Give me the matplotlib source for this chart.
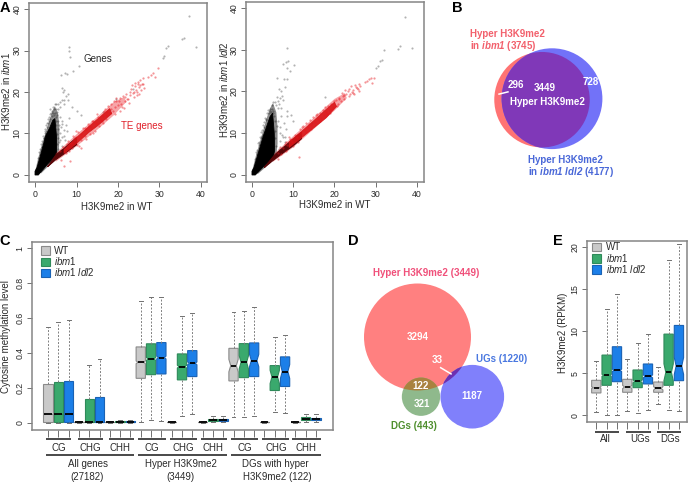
import matplotlib
matplotlib.use('Agg')
import matplotlib.pyplot as plt
from matplotlib.patches import Circle, Patch
from matplotlib.path import Path

plt.rcParams['font.family'] = ['Liberation Sans', 'DejaVu Sans']
plt.rcParams['mathtext.fontset'] = 'custom'
plt.rcParams['mathtext.rm'] = 'Liberation Sans'
plt.rcParams['mathtext.it'] = 'Liberation Sans:italic'
plt.rcParams['mathtext.bf'] = 'Liberation Sans:bold'
plt.rcParams['mathtext.bfit'] = 'Liberation Sans:italic:bold'

W, H = 690, 484
TXT = '#2a2a2a'
AXC = '#858585'

# ---------- panel A data ----------
a1_black_core_x = [0, 0, .5, 1.4, 2.6, 3.6, 4.3, 4.8, 5.2, 5.2, 4, 3, 2, 1.2, .8]
a1_black_core_y = [0, .9, 1.8, 5, 9.5, 11.5, 13.2, 13.6, 9, 5, 3.6, 2.6, 1.4, .5, 0]
a1_black_fuzz_x = [0, .8, 1.8, 2.8, 3.5, 4.2, 4.8, 5.6, 5.9, 5.8, 5.6, 4.5, 3, 1.5]
a1_black_fuzz_y = [.8, 4.2, 7.8, 11, 13.2, 15.4, 16.6, 14.6, 11, 7, 4.8, 3.2, 1.9, .4]
a1_black_x = [8.3, 8.3, 8.5, 6.3, 7.2, 7.8, 10.5, 9.2, 6.5, 7, 6.7, 8, 7.5, 8, 7, 6.5, 6, 5.5, 5, 4.7, 5, 5.5, 6, 7, 9, 10, 11, 6, 5.5, 5, 6.5, 7.5, 5.5, 6, 7, 6, 5.5, 6.5, 5, 4.5, 4.2, 3.8, 3.3, 3, 2.5, 2, 1.5, 1, .8, 2.2, 2.8, 4.8, 5.2, 4.4, 3.6, 4, 4.3, 4.6, 3.4, 3.1, 2.6, 2.3, 1.8, 1.3, 5.1, 5.4, 5.7, 4.9, 5.3, 5.8, 6.2, 5.2, 5.6, 37, 36, 35.5, 38.8, 32, 31.5, 31, 30.8, 16.5, 19.5, 23.5, 6.6, 6.9, 6.4, 7.3, 6.2, 6.8, 7.6, 8.2, 1.1, 1.6, 2.1, 2.4, 3.2, 3.5, 3.7]
a1_black_y = [30.8, 29.8, 28.5, 24, 24.5, 24.3, 26.2, 25, 21, 20.5, 20, 19.5, 19, 18, 18, 18, 17.5, 17, 17, 17, 16, 16, 16.5, 17, 16.5, 15.5, 14.5, 14, 13, 14, 13, 12, 11, 10, 9.5, 8.5, 9, 7, 12, 14.5, 15.5, 15, 13, 12.5, 11, 9.5, 7.5, 5.5, 4, 9, 11.5, 15, 15.3, 16.5, 14.6, 14.2, 15, 16, 14, 13.5, 12, 10.5, 8.2, 6.2, 13, 14.5, 12, 11, 9.8, 8, 11.5, 7.5, 6.2, 38.2, 33, 32.7, 30.8, 31, 30.5, 28.7, 28.3, 15.2, 18.2, 20.8, 12.2, 10.8, 9.2, 8.4, 6, 5.6, 10.6, 13.8, 4.8, 6.8, 8.8, 10, 12.6, 13.6, 15.8]
a1_dark_x = [3.5, 5, 7, 10, 10, 7, 5, 3]
a1_dark_y = [2.6, 4.8, 6.4, 9, 7.3, 5.1, 3.7, 2]
a1_red_core_x = [7, 10, 13, 15, 18, 18.5, 15, 13, 10, 7]
a1_red_core_y = [6.1, 9, 11.7, 13.4, 16, 14.8, 11.8, 10.3, 7.6, 5.2]
a1_red_fuzz_x = [5, 10, 15, 19, 21.5, 22, 19, 15, 10, 5]
a1_red_fuzz_y = [5.2, 9.8, 14, 17.6, 18.8, 17.6, 14.4, 10.9, 6.9, 3.2]
a1_red_x = [29.6, 28.5, 28, 27.3, 29, 26, 25.8, 25.4, 25.1, 24.8, 24.4, 24, 23.6, 23.2, 26.3, 25, 24.2, 23.9, 25.5, 24.6, 22.8, 22.4, 22, 21.6, 21.2, 20.8, 20.4, 20, 19.6, 19.2, 22.6, 21.8, 21, 20.2, 19.4, 18.8, 18.4, 18, 17.6, 17.2, 16.8, 16.4, 19, 18.2, 17.4, 16.6, 20.6, 21.4, 15.8, 15.2, 14.6, 14, 13.4, 12.8, 12.2, 11.6, 11, 10.4, 9.8, 9.2, 8.6, 8, 15.4, 14.4, 13.2, 12, 11, 10, 9, 8.2, 16.2, 17, 7.4, 6.8, 6.2, 6, 7.8, 8.4, 9.4, 10.6, 13, 12.4, 9.8, 14, 8.2, 7, 12, 15, 16.4, 11.2, 19.2, 13.8, 23, 23.8, 24.6, 25.2, 26, 22.2, 24.9, 23.4]
a1_red_y = [25.8, 24.5, 24.2, 23.7, 23.5, 23.3, 22, 22.8, 21.2, 22.4, 20.6, 21.4, 19.8, 20.8, 21, 19.5, 22.1, 18.9, 20.5, 19.3, 20.1, 18.4, 19.4, 17.8, 19, 17.2, 18.6, 16.8, 17.9, 16.4, 17.4, 18.9, 16.4, 17.9, 18.5, 15.4, 17.2, 15, 16.6, 14.5, 16, 14.1, 17.9, 15.8, 15.2, 15.4, 15.5, 16.2, 13.2, 13.9, 12.6, 13, 11.6, 12.4, 10.9, 11.3, 9.9, 10.3, 9.1, 9.3, 7.7, 8.3, 11.7, 10.7, 9.9, 9.5, 8.5, 7.2, 6.4, 5.9, 12.9, 13.6, 5.4, 6.7, 3.5, 5.9, 7.4, 3.4, 8.9, 7, 11.9, 8.7, 10.7, 10.2, 7.7, 2.2, 11.4, 14.6, 12.6, 6.6, 14.7, 12.9, 19.2, 20.1, 20, 21.6, 22, 18.2, 21.9, 21.6]

a2_black_core_x = [0, 0, .5, 1.4, 2.8, 3.7, 4.4, 5, 5.4, 5.5, 5.2, 4.2, 3, 2, 1.2, .8]
a2_black_core_y = [0, .9, 1.8, 4.8, 9.5, 12, 14, 14.8, 10, 6, 4.3, 3.2, 2.2, 1.2, .4, 0]
a2_black_fuzz_x = [0, .9, 2, 3, 3.7, 4.4, 5.1, 5.9, 6.2, 6.2, 5.9, 4.5, 3, 1.5]
a2_black_fuzz_y = [.8, 4.4, 8.2, 11.6, 14, 16, 17.2, 15, 11.4, 7.5, 4.6, 2.9, 1.6, .3]
a2_black_x = [8.5, 8.2, 7.4, 8.8, 8.5, 10.2, 9.1, 8.6, 6.1, 7.8, 8, 6.5, 7, 7.2, 6.8, 6, 6.4, 7.5, 5.5, 5, 5.8, 4.8, 6.2, 7.1, 9.5, 9.9, 8.5, 7, 6.4, 5.6, 7.7, 8.2, 6, 5.6, 6.8, 7.4, 8, 5.5, 5.9, 6.5, 5.2, 4.8, 4.4, 3.9, 3.4, 3, 2.5, 2, 1.5, 1, .8, 2.2, 2.8, 5, 5.3, 4.6, 3.6, 4.1, 4.3, 3.2, 2.7, 2.3, 1.7, 1.3, 6.6, 37, 36, 35.3, 38.8, 32, 31.5, 31, 30.5, 30, 17.8, 14.5, 6.7, 7.2, 6.9, 7.9, 8.6, 6.3, 1.2, 1.8, 2.4, 3.3]
a2_black_y = [30.5, 27, 26.5, 27.3, 25.5, 26.3, 25, 23, 23.2, 23, 21, 20.6, 20, 19, 18.5, 18.6, 17.6, 18, 17.5, 17.4, 16.8, 16.8, 16, 16, 14.4, 13, 14, 14, 13, 13, 12.4, 11, 11.8, 10.6, 10, 9, 8, 8.8, 7, 6.2, 15.4, 15.8, 15.9, 15.5, 13.5, 12.6, 10.8, 9.2, 7.6, 5.4, 3.8, 8.8, 11.4, 14.8, 14.2, 15, 14.8, 14.9, 15.2, 13.7, 11.9, 10.4, 8, 6, 17, 37.7, 30.8, 30.2, 30.4, 29.8, 27.4, 27.2, 26, 25.5, 18.6, 12.5, 11.4, 9.6, 8.2, 9, 15.2, 5.6, 5, 7.2, 9.4, 13.2]
a2_dark_x = [3.5, 5.4, 7, 10, 12, 12, 10, 7, 5, 3]
a2_dark_y = [2.4, 4.7, 6.1, 8.6, 10.2, 8.7, 7, 4.9, 3.4, 1.8]
a2_red_core_x = [9, 12, 15, 18, 20, 20.5, 18, 15, 12, 9]
a2_red_core_y = [7.9, 10.4, 13, 15.7, 17.4, 16.4, 13.7, 11.3, 8.9, 6.6]
a2_red_fuzz_x = [5.5, 10, 15, 20, 22.5, 23, 20, 15, 10, 5]
a2_red_fuzz_y = [5.2, 9.3, 13.7, 18.2, 19.6, 18.4, 15.4, 11, 6.6, 3.1]
a2_red_x = [29.7, 28.9, 28.4, 27.8, 27.3, 29.1, 26, 25.6, 25.2, 24.8, 24.4, 24, 23.6, 23.2, 25.9, 24.6, 23.8, 22.8, 22.4, 22, 21.6, 21.2, 20.8, 20.4, 22.6, 21.8, 21, 20.6, 20, 19.6, 19.2, 18.8, 18.4, 18, 17.6, 19.4, 18.2, 17.2, 16.8, 16.4, 16, 15.6, 15.2, 14.8, 14.4, 14, 13.6, 13.2, 12.8, 12.4, 12, 11.6, 11, 10.4, 9.8, 9.2, 8.6, 8, 7.4, 6.8, 6.2, 15.8, 14.2, 13, 11.2, 10, 8.2, 17.4, 19, 7, 16.6, 9.5, 12.2, 11.3, 8.2, 13.8, 26.2, 6.3, 9, 23.4, 24.2, 25, 25.4, 22.2]
a2_red_y = [23.3, 23.1, 22.9, 22.6, 22.3, 22, 21.7, 20.5, 21, 19.5, 20.3, 21.4, 19, 20, 20, 19.7, 19.3, 19.3, 18.1, 18.9, 17.7, 18.5, 17.1, 18, 20.3, 19.6, 18.2, 16.6, 17.6, 16.2, 17, 15.5, 16.6, 15, 16.2, 15.7, 14.7, 15.6, 13.7, 14.9, 13.3, 14.3, 12.7, 13.9, 12, 13.1, 11.4, 12.4, 10.7, 11.7, 10, 10.9, 9, 9.5, 8, 8.6, 7.2, 7.5, 6.4, 6.6, 3.8, 14.5, 11, 10.3, 8, 6.9, 5.8, 14.3, 14.9, 5.1, 12.8, 8.4, 11.6, 4.2, 7.9, 12.2, 21.2, 5.2, 9.2, 20.6, 19.8, 21.6, 20.8, 19.2]

# ---------- panel C data ----------
c_positions = list(range(1, 28))
c_hi  = [.55, .575, .59, .01, .33, .365, .008, .015, .016,
         .695, .72, .72, .01, .61, .627, .009, .04, .04,
         .637, .64, .663, .01, .491, .5, .008, .05, .05]
c_q3  = [.22, .23, .237, .006, .135, .148, .005, .008, .01,
         .434, .452, .459, .006, .394, .413, .006, .023, .023,
         .426, .453, .457, .006, .327, .377, .005, .03, .029]
c_med = [.048, .05, .052, .003, .005, .006, .003, .004, .005,
         .346, .365, .373, .003, .321, .34, .004, .017, .017,
         .327, .346, .356, .003, .262, .293, .003, .022, .02]
c_q1  = [.002, .002, .002, .001, .001, .001, .001, .002, .002,
         .254, .275, .279, .001, .245, .264, .002, .01, .01,
         .239, .258, .264, .001, .184, .207, .001, .013, .012]
c_lo  = [0, 0, 0, 0, 0, 0, 0, 0, 0,
         .002, .013, .01, 0, .036, .048, 0, .002, .002,
         .031, .034, .038, 0, .063, .057, 0, .001, .003]
c_notch = [0, 0, 0, 0, 0, 0, 0, 0, 0,
           .008, .008, .008, 0, .008, .008, 0, 0, 0,
           .036, .038, .036, 0, .038, .04, 0, 0, 0]

# ---------- panel E data ----------
e_positions = list(range(1, 10))
e_hi  = [6.4, 12.6, 14.35, 6.64, 8.54, 9.64, 5.77, 18.5, 20.36]
e_q3  = [4.15, 7.15, 8.14, 4.27, 5.38, 6.09, 3.95, 9.64, 10.67]
e_med = [3.28, 4.74, 5.34, 3.36, 4.03, 4.62, 3.2, 5.1, 5.85]
e_q1  = [2.65, 3.56, 3.99, 2.73, 3.28, 3.72, 2.73, 3.56, 4.11]
e_lo  = [.43, .04, .04, .51, .28, .67, 1.3, .63, .51]
e_notch = [.1, .12, .14, .2, .18, .18, .2, 1.0, 1.0]

series_names = ['WT', r'$\mathit{ibm1}$', r'$\mathit{ibm1\ ldl2}$']
box_fill = ['#c9c9c9', '#3aa96d', '#1c7fe8']
box_edge = ['#8a8a8a', '#2f8a5a', '#1a62b4']

# ---------- Venn counts ----------
b_only_ibm1, b_shared, b_only_ldl2 = 296, 3449, 728
b_total_ibm1, b_total_ldl2 = 3745, 4177
d_hyper, d_ug, d_dg = 3449, 1220, 443
d_hyper_only, d_hyper_ug, d_hyper_dg, d_dg_only, d_ug_only = 3294, 33, 122, 321, 1187


def px_axes(fig, l, t, r, b, **kw):
    return fig.add_axes([l / W, 1 - b / H, (r - l) / W, (b - t) / H], **kw)


def style(ax):
    for s in ax.spines.values():
        s.set_color(AXC)
        s.set_linewidth(1.1)
    ax.tick_params(axis='both', colors='#707070', labelcolor=TXT, labelsize=6.3,
                   length=3.5, width=.7, pad=2)
    for lab in ax.get_yticklabels():
        lab.set_rotation(90)
        lab.set_va('center')


def scatter_panel(ax, core_x, core_y, fuzz_x, fuzz_y, dark_x, dark_y, red_core_x, red_core_y,
                  red_fuzz_x, red_fuzz_y, bx, by, rx, ry):
    ax.fill(fuzz_x, fuzz_y, color='#000000', lw=0, alpha=.45, zorder=2)
    ax.fill(core_x, core_y, color='#000000', lw=.6, zorder=2)
    ax.scatter(bx, by, s=2.4, c='#000000', alpha=.3, linewidths=0, zorder=2)
    ax.fill(red_fuzz_x, red_fuzz_y, color='#ee2a30', lw=0, alpha=.42, zorder=3)
    ax.fill(dark_x, dark_y, color='#5a0608', lw=.8, zorder=3)
    ax.fill(red_core_x, red_core_y, color='#d81518', lw=.6, alpha=.9, zorder=3)
    ax.scatter(rx, ry, s=2.6, c='#e8141c', alpha=.45, linewidths=0, zorder=4)


fig = plt.figure(figsize=(W / 100, H / 100), dpi=100)

# Panel A left
ax = px_axes(fig, 29, 3, 207, 182)
ax.set_xlim(-1.45, 41.45)
ax.set_ylim(-1.69, 41.45)
ax.set_xticks([0, 10, 20, 30, 40])
ax.set_yticks([0, 10, 20, 30, 40])
scatter_panel(ax, a1_black_core_x, a1_black_core_y, a1_black_fuzz_x, a1_black_fuzz_y,
              a1_dark_x, a1_dark_y, a1_red_core_x, a1_red_core_y, a1_red_fuzz_x, a1_red_fuzz_y,
              a1_black_x, a1_black_y, a1_red_x, a1_red_y)
style(ax)

# Panel A right
ax = px_axes(fig, 246, 2, 424, 182)
ax.set_xlim(-1.45, 41.7)
ax.set_ylim(-1.68, 41.4)
ax.set_xticks([0, 10, 20, 30, 40])
ax.set_yticks([0, 10, 20, 30, 40])
scatter_panel(ax, a2_black_core_x, a2_black_core_y, a2_black_fuzz_x, a2_black_fuzz_y,
              a2_dark_x, a2_dark_y, a2_red_core_x, a2_red_core_y, a2_red_fuzz_x, a2_red_fuzz_y,
              a2_black_x, a2_black_y, a2_red_x, a2_red_y)
style(ax)


def boxes(ax, pos, lo, q1, med, q3, hi, notch):
    stats = [dict(whislo=a, q1=b, med=c, q3=d, whishi=e, cilo=c - n, cihi=c + n, fliers=[])
             for a, b, c, d, e, n in zip(lo, q1, med, q3, hi, notch)]
    art = ax.bxp(stats, positions=pos, widths=.9, shownotches=True, patch_artist=True,
                 capwidths=.38, showfliers=False, manage_ticks=False,
                 medianprops=dict(color='#000000', lw=1.3),
                 whiskerprops=dict(color='#808080', lw=.7, ls=(0, (2, 1.6))),
                 capprops=dict(color='#707070', lw=.7))
    neck = .27
    for i, b in enumerate(art['boxes']):
        b.set_facecolor(box_fill[i % 3])
        b.set_edgecolor(box_edge[i % 3])
        b.set_linewidth(.8)
        # widen the narrow neck of the notch and the median bar to the reference's proportion
        v = b.get_path().vertices.copy()
        inner = abs(abs(v[:, 0] - pos[i]) - .225) < 1e-6
        v[inner, 0] = pos[i] + (v[inner, 0] - pos[i]) / .225 * neck
        b.set_path(Path(v, b.get_path().codes))
        half = neck if notch[i] > 0 else .38
        art['medians'][i].set_xdata([pos[i] - half, pos[i] + half])


def legend(ax, x, y):
    handles = [Patch(facecolor=f, edgecolor=e, lw=.8) for f, e in zip(box_fill, box_edge)]
    ax.legend(handles, series_names, loc='upper left', frameon=False, fontsize=7,
              bbox_to_anchor=(x / W, 1 - y / H), bbox_transform=fig.transFigure,
              borderpad=0, borderaxespad=0, handlelength=.95, handleheight=.95,
              labelspacing=-.08, handletextpad=.45, labelcolor=TXT)


# Panel C
ax = px_axes(fig, 32, 242, 333, 430)
boxes(ax, c_positions, c_lo, c_q1, c_med, c_q3, c_hi, c_notch)
ax.set_xlim(-.55, 28.65)
ax.set_ylim(-.0425, 1.036)
ax.set_xticks(c_positions)
ax.set_xticklabels([])
ax.set_yticks([0, .2, .4, .6, .8, 1])
ax.set_yticklabels(['0', '0.2', '0.4', '0.6', '0.8', '1'])
style(ax)
ax.tick_params(axis='x', length=5)
legend(ax, 40.5, 246)

# Panel E
ax = px_axes(fig, 587, 241, 687, 422)
boxes(ax, e_positions, e_lo, e_q1, e_med, e_q3, e_hi, e_notch)
ax.set_xlim(.1, 9.78)
ax.set_ylim(-.8, 20.7)
ax.set_xticks(e_positions)
ax.set_xticklabels([])
ax.set_yticks([0, 5, 10, 15, 20])
style(ax)
ax.tick_params(axis='x', length=5)
legend(ax, 592, 242.5)

# Overlay in pixel coordinates
ov = fig.add_axes([0, 0, 1, 1], facecolor='none', zorder=10)
ov.set_xlim(0, W)
ov.set_ylim(H, 0)
ov.axis('off')


def T(x, y, s, size=7, color=TXT, ha='center', va='center', **kw):
    return ov.text(x, y, s, fontsize=size, color=color, ha=ha, va=va, **kw)


def line(x0, x1, y0, y1=None, color='#2a2a2a', lw=1.2):
    ov.plot([x0, x1], [y0, y0 if y1 is None else y1], color=color, lw=lw, solid_capstyle='butt')


# panel letters
for x, y, s in [(5, 8, 'A'), (457, 8, 'B'), (5, 241, 'C'), (353, 241, 'D'), (558, 241, 'E')]:
    T(x, y, s, size=10.5, color='#000000', fontweight='bold')

# Panel A text
T(117, 207, 'H3K9me2 in WT')
T(335, 205, 'H3K9me2 in WT')
T(6, 92, r'H3K9me2 in $\mathit{ibm1}$', rotation=90)
T(224, 90, r'H3K9me2 in $\mathit{ibm1\ ldl2}$', rotation=90)
T(98, 59, 'Genes')
T(142, 126, 'TE genes', color='#e0202a')

# Panel C/E text
T(6, 337, 'Cytosine methylation level', rotation=90)
T(563, 333, 'H3K9me2 (RPKM)', rotation=90)
for (a, b, s), cx in zip([(137, 213, 'CG'), (233, 310, 'CHG'), (326, 403, 'CHH'),
                          (415, 497, 'CG'), (509, 590, 'CHG'), (602, 680, 'CHH'),
                          (692, 773, 'CG'), (787, 867, 'CHG'), (877, 963, 'CHH')],
                         [177, 271, 361, 456, 550, 640, 733, 829, 918]):
    line(a / 3, b / 3, 439)
    T(cx / 3, 447.7, s)
for a, b in [(137, 403), (415, 680), (692, 963)]:
    line(a / 3, b / 3, 455.3)
T(87.5, 464, 'All genes')
T(87, 477, '(27182)')
T(181, 464, 'Hyper H3K9me2')
T(180, 477, '(3449)')
T(275, 464, 'DGs with hyper')
T(277, 477, 'H3K9me2 (122)')
for a, b, s, cx in [(595, 618.7, 'All', 605.7), (626, 650.7, 'UGs', 640), (657, 681.3, 'DGs', 670)]:
    line(a, b, 432.3)
    T(cx, 439.3, s)

# Panel B venn
kb = 50.4 / b_total_ldl2 ** .5
red_b = Circle((542, 99.7), kb * b_total_ibm1 ** .5, fc='#ff7373', ec='none')
blue_b = Circle((552, 98.7), kb * b_total_ldl2 ** .5, fc='#7272f8', ec='none')
ov.add_patch(red_b)
ov.add_patch(blue_b)
over = Circle((542, 99.7), kb * b_total_ibm1 ** .5, fc='#8038b8', ec='none')
ov.add_patch(over)
over.set_clip_path(blue_b)
BW = dict(fontweight='bold')
T(470, 34, 'Hyper H3K9me2', color='#f2606c', ha='left', **BW)
T(470, 46, r'$\mathbf{in}\ \mathbfit{ibm1}\ \mathbf{(%d)}$' % b_total_ibm1, color='#f2606c', ha='left')
T(528, 160, 'Hyper H3K9me2', color='#4a68d8', ha='left', **BW)
T(528, 172, r'$\mathbf{in}\ \mathbfit{ibm1\ ldl2}\ \mathbf{(%d)}$' % b_total_ldl2, color='#4a68d8', ha='left')
T(516, 85, str(b_only_ibm1), color='white', **BW)
T(544.5, 88, str(b_shared), color='white', **BW)
T(547.5, 101.7, 'Hyper H3K9me2', color='white', **BW)
T(590.5, 82, str(b_only_ldl2), color='white', **BW)
line(498.3, 508.7, 94.3, 91.7, color='white', lw=1.1)

# Panel D venn
kd = 53.5 / d_hyper ** .5
c_h = Circle((417.5, 337), kd * d_hyper ** .5, fc='#ff8080', ec='none')
c_d = Circle((421, 396.7), kd * d_dg ** .5, fc='#8fb98c', ec='none')
c_u = Circle((472.3, 396.7), kd * d_ug ** .5, fc='#8080fb', ec='none')
for c in (c_h, c_d, c_u):
    ov.add_patch(c)
o1 = Circle((421, 396.7), kd * d_dg ** .5, fc='#a9823f', ec='none')
ov.add_patch(o1)
o1.set_clip_path(c_h)
o2 = Circle((472.3, 396.7), kd * d_ug ** .5, fc='#6d30b0', ec='none')
ov.add_patch(o2)
o2.set_clip_path(c_h)
T(425.7, 273.3, 'Hyper H3K9me2 (%d)' % d_hyper, color='#f0507a', **BW)
T(418, 337, str(d_hyper_only), color='white', **BW)
T(437, 360, str(d_hyper_ug), color='white', **BW)
T(501.7, 359.3, 'UGs (%d)' % d_ug, color='#4a78e0', **BW)
T(420.7, 386, str(d_hyper_dg), color='white', **BW)
T(422, 404, str(d_dg_only), color='white', **BW)
T(472.3, 396.3, str(d_ug_only), color='white', **BW)
T(414, 426, 'DGs (%d)' % d_dg, color='#4f8f2e', **BW)
line(440, 451.7, 367.3, 374.3, color='white', lw=1.1)

fig.savefig('out.png', dpi=100)
